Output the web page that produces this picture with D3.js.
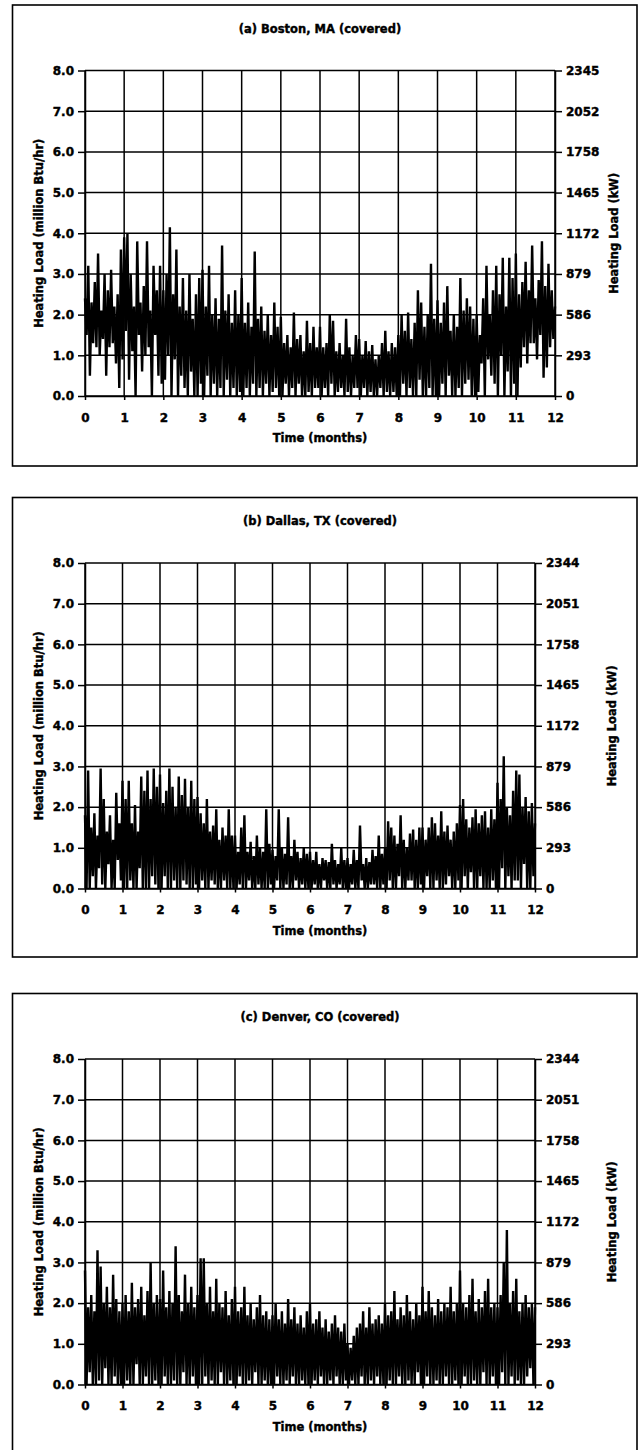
<!DOCTYPE html>
<html>
<head>
<meta charset="utf-8">
<script src="https://cdn.jsdelivr.net/npm/d3@7"></script>
<style>
  body { margin: 0; background: #fff; }
  text { font-family: "DejaVu Sans", sans-serif; font-weight: bold; fill: #000; stroke: #000; stroke-width: 0.4px; }
</style>
</head>
<body>
<script>
// tick values / labels
let monthTicks = [0, 1, 2, 3, 4, 5, 6, 7, 8, 9, 10, 11, 12];
let loadTicks = [0, 1, 2, 3, 4, 5, 6, 7, 8];
let kwLabelsA = ["0", "293", "586", "879", "1172", "1465", "1758", "2052", "2345"];
let kwLabelsBC = ["0", "293", "586", "879", "1172", "1465", "1758", "2051", "2344"];

// heating load (million Btu/hr): 24 points per month, one month per line
let bostonLoad = [
  2.4,1.5, 3.2,0.5, 2.3,1.3, 2.8,1.2, 3.5,1.0, 2.1,1.4, 3.0,0.5, 2.6,1.2, 3.1,1.3, 2.2,0.8, 2.5,0.2, 3.6,0.9,
  3.9,1.6, 4.0,0.4, 3.0,1.1, 2.2,0.0, 3.8,1.5, 2.3,0.6, 2.7,1.0, 3.8,1.2, 2.1,0.0, 3.2,1.5, 2.6,0.5, 3.2,0.3,
  2.6,0.4, 3.0,1.0, 4.15,0.0, 2.5,0.9, 3.6,0.0, 2.2,0.5, 2.9,0.2, 2.1,0.0, 3.0,0.6, 1.9,0.0, 2.5,0.0, 2.9,0.3,
  3.1,0.0, 2.2,0.5, 3.2,0.0, 2.0,0.3, 2.4,0.0, 1.9,0.2, 3.7,0.0, 2.1,0.4, 2.5,0.0, 1.8,0.2, 2.6,0.0, 2.0,0.1,
  2.9,0.0, 1.8,0.2, 2.3,0.0, 1.7,0.3, 3.55,0.0, 1.9,0.2, 2.2,0.0, 1.6,0.3, 2.0,0.0, 1.5,0.1, 2.3,0.2, 1.7,0.0,
  1.95,0.0, 1.3,0.3, 1.5,0.0, 1.2,0.2, 2.05,0.0, 1.4,0.3, 1.5,0.0, 1.1,0.0, 1.85,0.1, 1.3,0.0, 1.7,0.2, 1.2,0.2,
  1.7,0.0, 1.2,0.2, 1.3,0.0, 2.0,0.3, 1.85,0.0, 1.1,0.1, 1.3,0.2, 1.0,0.0, 1.9,0.1, 1.2,0.0, 1.0,0.2, 1.5,0.2,
  1.4,0.0, 1.0,0.2, 1.35,0.0, 1.1,0.1, 1.25,0.0, 0.9,0.0, 1.0,0.2, 1.3,0.0, 1.6,0.1, 1.1,0.0, 1.3,0.1, 1.2,0.0,
  1.5,0.0, 2.0,0.3, 1.6,0.0, 2.05,0.2, 1.4,0.0, 1.8,0.0, 2.6,0.4, 2.3,0.0, 1.7,0.0, 2.0,0.2, 3.25,0.0, 1.9,0.0,
  2.35,0.0, 1.8,0.3, 2.3,0.0, 2.7,0.5, 1.6,0.0, 2.0,0.0, 1.7,0.2, 2.9,0.0, 2.1,0.3, 2.4,0.4, 2.2,0.0, 1.9,0.0,
  2.0,0.1, 1.5,0.8, 2.4,0.0, 3.2,0.9, 2.0,0.5, 2.6,0.3, 3.2,0.0, 2.5,1.0, 3.4,0.0, 2.2,0.6, 3.4,0.0, 2.9,0.3,
  3.5,0.0, 2.5,0.7, 2.8,1.2, 3.3,0.8, 2.6,1.3, 3.7,1.3, 2.4,0.9, 2.85,1.5, 3.8,0.45, 2.7,0.7, 3.25,1.2, 2.6,1.4,
  2.2
];

let dallasLoad = [
  1.8,0.0, 2.9,0.0, 1.5,0.3, 1.85,0.0, 1.3,0.5, 2.95,0.1, 2.2,0.0, 1.4,0.6, 1.8,0.0, 1.2,0.0, 2.35,0.7, 1.6,0.2,
  2.65,0.0, 2.2,0.0, 2.65,0.2, 1.6,0.0, 2.05,0.0, 1.4,0.5, 2.75,0.0, 2.4,0.0, 2.9,0.0, 2.2,0.3, 2.95,0.1, 2.5,0.0,
  2.8,0.0, 2.1,0.3, 2.4,0.0, 2.95,0.0, 2.5,0.2, 2.0,0.0, 2.75,0.0, 2.3,0.2, 2.7,0.1, 2.0,0.0, 2.65,0.0, 2.2,0.1,
  2.25,0.0, 1.85,0.2, 1.6,0.0, 2.2,0.0, 1.4,0.2, 1.55,0.1, 1.95,0.0, 1.2,0.0, 1.5,0.2, 1.3,0.0, 1.95,0.0, 1.3,0.0,
  1.3,0.0, 0.9,0.1, 1.5,0.0, 1.8,0.0, 0.9,0.2, 1.15,0.0, 0.8,0.0, 1.3,0.1, 1.0,0.0, 0.9,0.0, 1.95,0.0, 1.1,0.1,
  0.95,0.0, 0.8,0.2, 1.95,0.0, 1.0,0.0, 0.85,0.1, 1.75,0.0, 0.8,0.0, 1.2,0.2, 0.9,0.0, 0.75,0.1, 1.0,0.0, 0.85,0.0,
  0.9,0.0, 0.7,0.1, 0.9,0.0, 0.6,0.0, 0.75,0.2, 0.7,0.0, 0.65,0.0, 1.1,0.1, 0.7,0.0, 0.6,0.1, 1.0,0.0, 0.7,0.0,
  0.75,0.0, 0.6,0.1, 0.95,0.0, 0.7,0.0, 1.55,0.2, 0.6,0.0, 0.75,0.0, 0.65,0.1, 0.95,0.1, 0.8,0.0, 1.3,0.0, 0.85,0.1,
  1.0,0.0, 1.65,0.2, 1.5,0.0, 1.3,0.0, 1.1,0.3, 1.8,0.0, 1.2,0.0, 1.0,0.2, 1.35,0.2, 1.45,0.0, 1.2,0.0, 1.5,0.1,
  1.5,0.0, 1.2,0.3, 1.5,0.0, 1.75,0.0, 1.6,0.2, 1.3,0.0, 1.9,0.0, 1.4,0.1, 1.55,0.3, 1.2,0.0, 1.4,0.0, 1.6,0.2,
  2.05,0.0, 2.2,0.3, 1.7,0.0, 1.5,0.4, 1.75,0.0, 1.95,0.0, 1.6,0.3, 1.8,0.0, 1.9,0.0, 1.5,0.0, 1.95,0.2, 1.7,0.0,
  2.6,0.0, 2.2,0.5, 3.25,0.0, 2.0,0.3, 1.8,0.0, 2.4,0.2, 2.9,0.2, 2.8,0.0, 2.0,0.6, 2.25,0.0, 1.9,0.0, 2.1,0.3,
  1.6
];

let denverLoad = [
  2.8,0.0, 1.9,0.3, 2.2,0.0, 1.8,0.0, 3.3,0.1, 2.9,0.0, 2.0,0.4, 2.4,0.0, 1.9,0.0, 2.7,0.2, 2.1,0.0, 1.8,0.0,
  2.0,0.0, 2.2,0.1, 1.8,0.0, 2.5,0.0, 1.9,0.5, 2.1,0.0, 2.4,0.0, 1.7,0.2, 2.3,0.0, 3.0,0.0, 2.0,0.1, 2.2,0.0,
  2.1,0.0, 2.8,0.2, 1.9,0.0, 2.3,0.0, 2.0,0.1, 3.4,0.0, 2.2,0.0, 1.8,0.3, 2.7,0.0, 2.0,0.0, 2.4,0.2, 1.9,0.0,
  2.2,0.0, 3.1,0.0, 3.1,0.2, 2.0,0.0, 2.4,0.1, 1.8,0.0, 2.6,0.0, 2.0,0.3, 1.9,0.0, 2.3,0.0, 1.7,0.1, 2.1,0.0,
  2.4,0.0, 1.8,0.2, 1.9,0.0, 2.4,0.0, 1.7,0.1, 2.0,0.0, 1.6,0.3, 1.9,0.0, 2.2,0.0, 1.7,0.1, 1.8,0.0, 1.6,0.0,
  1.7,0.0, 2.0,0.2, 1.6,0.0, 1.8,0.0, 1.5,0.1, 2.1,0.0, 1.6,0.2, 1.9,0.0, 1.5,0.0, 1.7,0.1, 1.4,0.0, 1.8,0.0,
  2.0,0.0, 1.5,0.1, 1.6,0.0, 1.8,0.2, 1.4,0.0, 1.6,0.0, 1.3,0.1, 1.5,0.0, 1.7,0.2, 1.4,0.0, 1.3,0.0, 1.5,0.1,
  1.0,0.0, 0.9,0.1, 1.2,0.0, 1.4,0.0, 1.5,0.2, 1.8,0.0, 1.4,0.0, 1.9,0.1, 1.5,0.0, 1.6,0.2, 1.7,0.0, 1.5,0.0,
  2.0,0.0, 1.7,0.1, 1.8,0.0, 2.3,0.0, 1.6,0.2, 1.9,0.0, 1.7,0.0, 2.2,0.1, 1.8,0.0, 1.6,0.0, 2.0,0.3, 1.7,0.0,
  2.4,0.0, 1.8,0.2, 2.3,0.0, 1.9,0.0, 1.7,0.1, 2.1,0.0, 1.8,0.0, 2.0,0.2, 1.9,0.0, 2.4,0.0, 1.8,0.1, 2.0,0.0,
  2.8,0.0, 2.0,0.2, 1.9,0.0, 2.2,0.0, 2.6,0.1, 1.8,0.0, 2.1,0.0, 1.9,0.3, 2.3,0.0, 2.6,0.0, 1.9,0.2, 2.0,0.0,
  1.9,0.0, 2.2,0.3, 3.0,0.0, 3.8,0.0, 2.0,0.2, 2.3,0.0, 2.6,0.1, 1.8,0.0, 2.0,0.0, 2.2,0.2, 1.9,0.4, 2.0,0.0,
  1.9
];

let panels = [
  {title: "(a) Boston, MA (covered)", data: bostonLoad, kw: kwLabelsA, top: 5, height: 461, right: 555, kwTitleX: 614},
  {title: "(b) Dallas, TX (covered)", data: dallasLoad, kw: kwLabelsBC, top: 497.5, height: 459.5, right: 535, kwTitleX: 612},
  {title: "(c) Denver, CO (covered)", data: denverLoad, kw: kwLabelsBC, top: 993.5, height: 461, right: 535, kwTitleX: 612}
];

let svg = d3.select("body").append("svg")
  .attr("width", 639)
  .attr("height", 1450);

let plotLeft = 85, plotTop = 65.5, plotHeight = 325.5;

panels.forEach(p => drawPanel(p));

function drawPanel(p) {
  let g = svg.append("g")
    .attr("transform", `translate(0,${p.top})`);

  // chart frame
  g.append("rect")
    .attr("x", 12.5).attr("y", 0)
    .attr("width", 624.5).attr("height", p.height)
    .attr("fill", "none")
    .attr("stroke", "#000")
    .attr("stroke-width", 1.6);

  let x = d3.scaleLinear().domain([0, 12]).range([plotLeft, p.right]);
  let y = d3.scaleLinear().domain([0, 8]).range([plotTop + plotHeight, plotTop]);

  // grid
  g.append("g").selectAll("line.h")
    .data(loadTicks)
    .enter().append("line")
    .attr("x1", x(0)).attr("x2", x(12))
    .attr("y1", d => y(d)).attr("y2", d => y(d))
    .attr("stroke", "#000").attr("stroke-width", 1.5);

  g.append("g").selectAll("line.v")
    .data(monthTicks)
    .enter().append("line")
    .attr("x1", d => x(d)).attr("x2", d => x(d))
    .attr("y1", y(0)).attr("y2", y(8))
    .attr("stroke", "#000").attr("stroke-width", 1.5);

  // series
  let line = d3.line()
    .x((d, i) => x(i * 12 / (p.data.length - 1)))
    .y(d => y(d));

  g.append("path")
    .datum(p.data)
    .attr("d", line)
    .attr("fill", "none")
    .attr("stroke", "#000")
    .attr("stroke-width", 2.4)
    .attr("stroke-linejoin", "bevel");

  // axes
  let leftAxis = d3.axisLeft(y)
    .tickValues(loadTicks)
    .tickFormat(d3.format(".1f"))
    .tickSizeInner(7).tickSizeOuter(0).tickPadding(4);
  let rightAxis = d3.axisRight(y)
    .tickValues(loadTicks)
    .tickFormat((d, i) => p.kw[i])
    .tickSizeInner(7).tickSizeOuter(0).tickPadding(4);
  let bottomAxis = d3.axisBottom(x)
    .tickValues(monthTicks)
    .tickFormat(d3.format("d"))
    .tickSizeInner(4).tickSizeOuter(0).tickPadding(13);

  let axes = [
    g.append("g").attr("transform", `translate(${plotLeft},0)`).call(leftAxis),
    g.append("g").attr("transform", `translate(${p.right},0)`).call(rightAxis),
    g.append("g").attr("transform", `translate(0,${y(0)})`).call(bottomAxis)
  ];
  axes.forEach(a => {
    a.selectAll("path, line").attr("stroke", "#000").attr("stroke-width", 1.5);
    a.selectAll("text")
      .attr("fill", "#000")
      .attr("stroke", "#000")
      .attr("stroke-width", 0.4)
      .style("font-family", "'DejaVu Sans', sans-serif")
      .style("font-weight", "bold")
      .style("font-size", "12px");
  });

  // titles
  g.append("text")
    .attr("x", 320).attr("y", 27.5)
    .attr("text-anchor", "middle")
    .style("font-size", "11.5px")
    .text(p.title);

  g.append("text")
    .attr("transform", `translate(39,${plotTop + plotHeight / 2}) rotate(-90)`)
    .attr("text-anchor", "middle")
    .attr("dy", "0.36em")
    .style("font-size", "11.5px")
    .text("Heating Load (million Btu/hr)");

  g.append("text")
    .attr("transform", `translate(${p.kwTitleX},${plotTop + plotHeight / 2}) rotate(-90)`)
    .attr("text-anchor", "middle")
    .attr("dy", "0.36em")
    .style("font-size", "11.5px")
    .text("Heating Load (kW)");

  g.append("text")
    .attr("x", 320).attr("y", 437)
    .attr("text-anchor", "middle")
    .style("font-size", "11.5px")
    .text("Time (months)");
}
</script>
</body>
</html>
